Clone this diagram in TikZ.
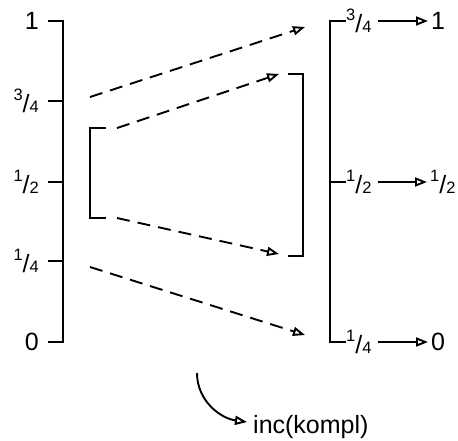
\documentclass[tikz,border=0pt]{standalone}
\usepackage{fontspec}
\setmainfont{Liberation Sans}
\usetikzlibrary{arrows.meta}
\newcommand\myfr[2]{\raisebox{11.5pt}{\fontsize{16.5}{16.5}\selectfont #1}/{\fontsize{16.5}{16.5}\selectfont #2}}
\begin{document}
\begin{tikzpicture}[x=1pt,y=-1pt,
  lbl/.style={font=\fontsize{25}{29}\selectfont, inner sep=0pt},
  ln/.style={line width=1.9pt},
  tip/.style={-{Triangle[open,length=12pt,width=9pt]}},
  dashline/.style={ln, tip, dash pattern=on 13pt off 8pt},
  arr/.style={ln, tip, shorten <=6pt, shorten >=3pt}]
\useasboundingbox (0,0) rectangle (458,440);
% left scale
\draw[ln] (48,21) -- (63,21) -- (63,342) -- (48,342);
\draw[ln] (48,101) -- (63,101);
\draw[ln] (48,182) -- (63,182);
\draw[ln] (48,261) -- (63,261);
\node[lbl, anchor=east] (l1) at (39,21) {1};
\node[lbl, anchor=east] (l34) at (39,101) {\myfr{3}{4}};
\node[lbl, anchor=east] (l12) at (39,182) {\myfr{1}{2}};
\node[lbl, anchor=east] (l14) at (39,261) {\myfr{1}{4}};
\node[lbl, anchor=east] (l0) at (39,342) {0};
% brackets
\draw[ln] (106,128) -- (90,128) -- (90,218) -- (106,218);
\draw[ln] (288,74) -- (303,74) -- (303,256) -- (288,256);
% dashed maps
\coordinate (a1) at (90,97);   \coordinate (b1) at (305,27);
\coordinate (a2) at (117,128); \coordinate (b2) at (279,74);
\coordinate (a3) at (117,218); \coordinate (b3) at (279,254);
\coordinate (a4) at (90,267);  \coordinate (b4) at (305,335);
\draw[dashline] (a1) -- (b1);
\draw[dashline] (a2) -- (b2);
\draw[dashline] (a3) -- (b3);
\draw[dashline] (a4) -- (b4);
% right scale
\draw[ln] (346,21) -- (330,21) -- (330,342) -- (346,342);
\draw[ln] (330,182) -- (346,182);
\node[lbl, anchor=west] (r34) at (346,21) {\myfr{3}{4}};
\node[lbl, anchor=west] (r12) at (346,182) {\myfr{1}{2}};
\node[lbl, anchor=west] (r14) at (346,342) {\myfr{1}{4}};
\node[lbl, anchor=west] (t1) at (431,21) {1};
\node[lbl, anchor=west] (t12) at (430,182) {\myfr{1}{2}};
\node[lbl, anchor=west] (t0) at (431,342) {0};
\draw[arr] (r34) -- (t1);
\draw[arr] (r12) -- (t12);
\draw[arr] (r14) -- (t0);
% inc
\node[lbl, anchor=base west] (inc) at (253,433) {inc(kompl)};
\coordinate (cs) at (197,373);
\draw[ln, tip] (cs) to[out=-90, in=172] ([xshift=-6pt, yshift=11pt]inc.base west);
\end{tikzpicture}
\end{document}
